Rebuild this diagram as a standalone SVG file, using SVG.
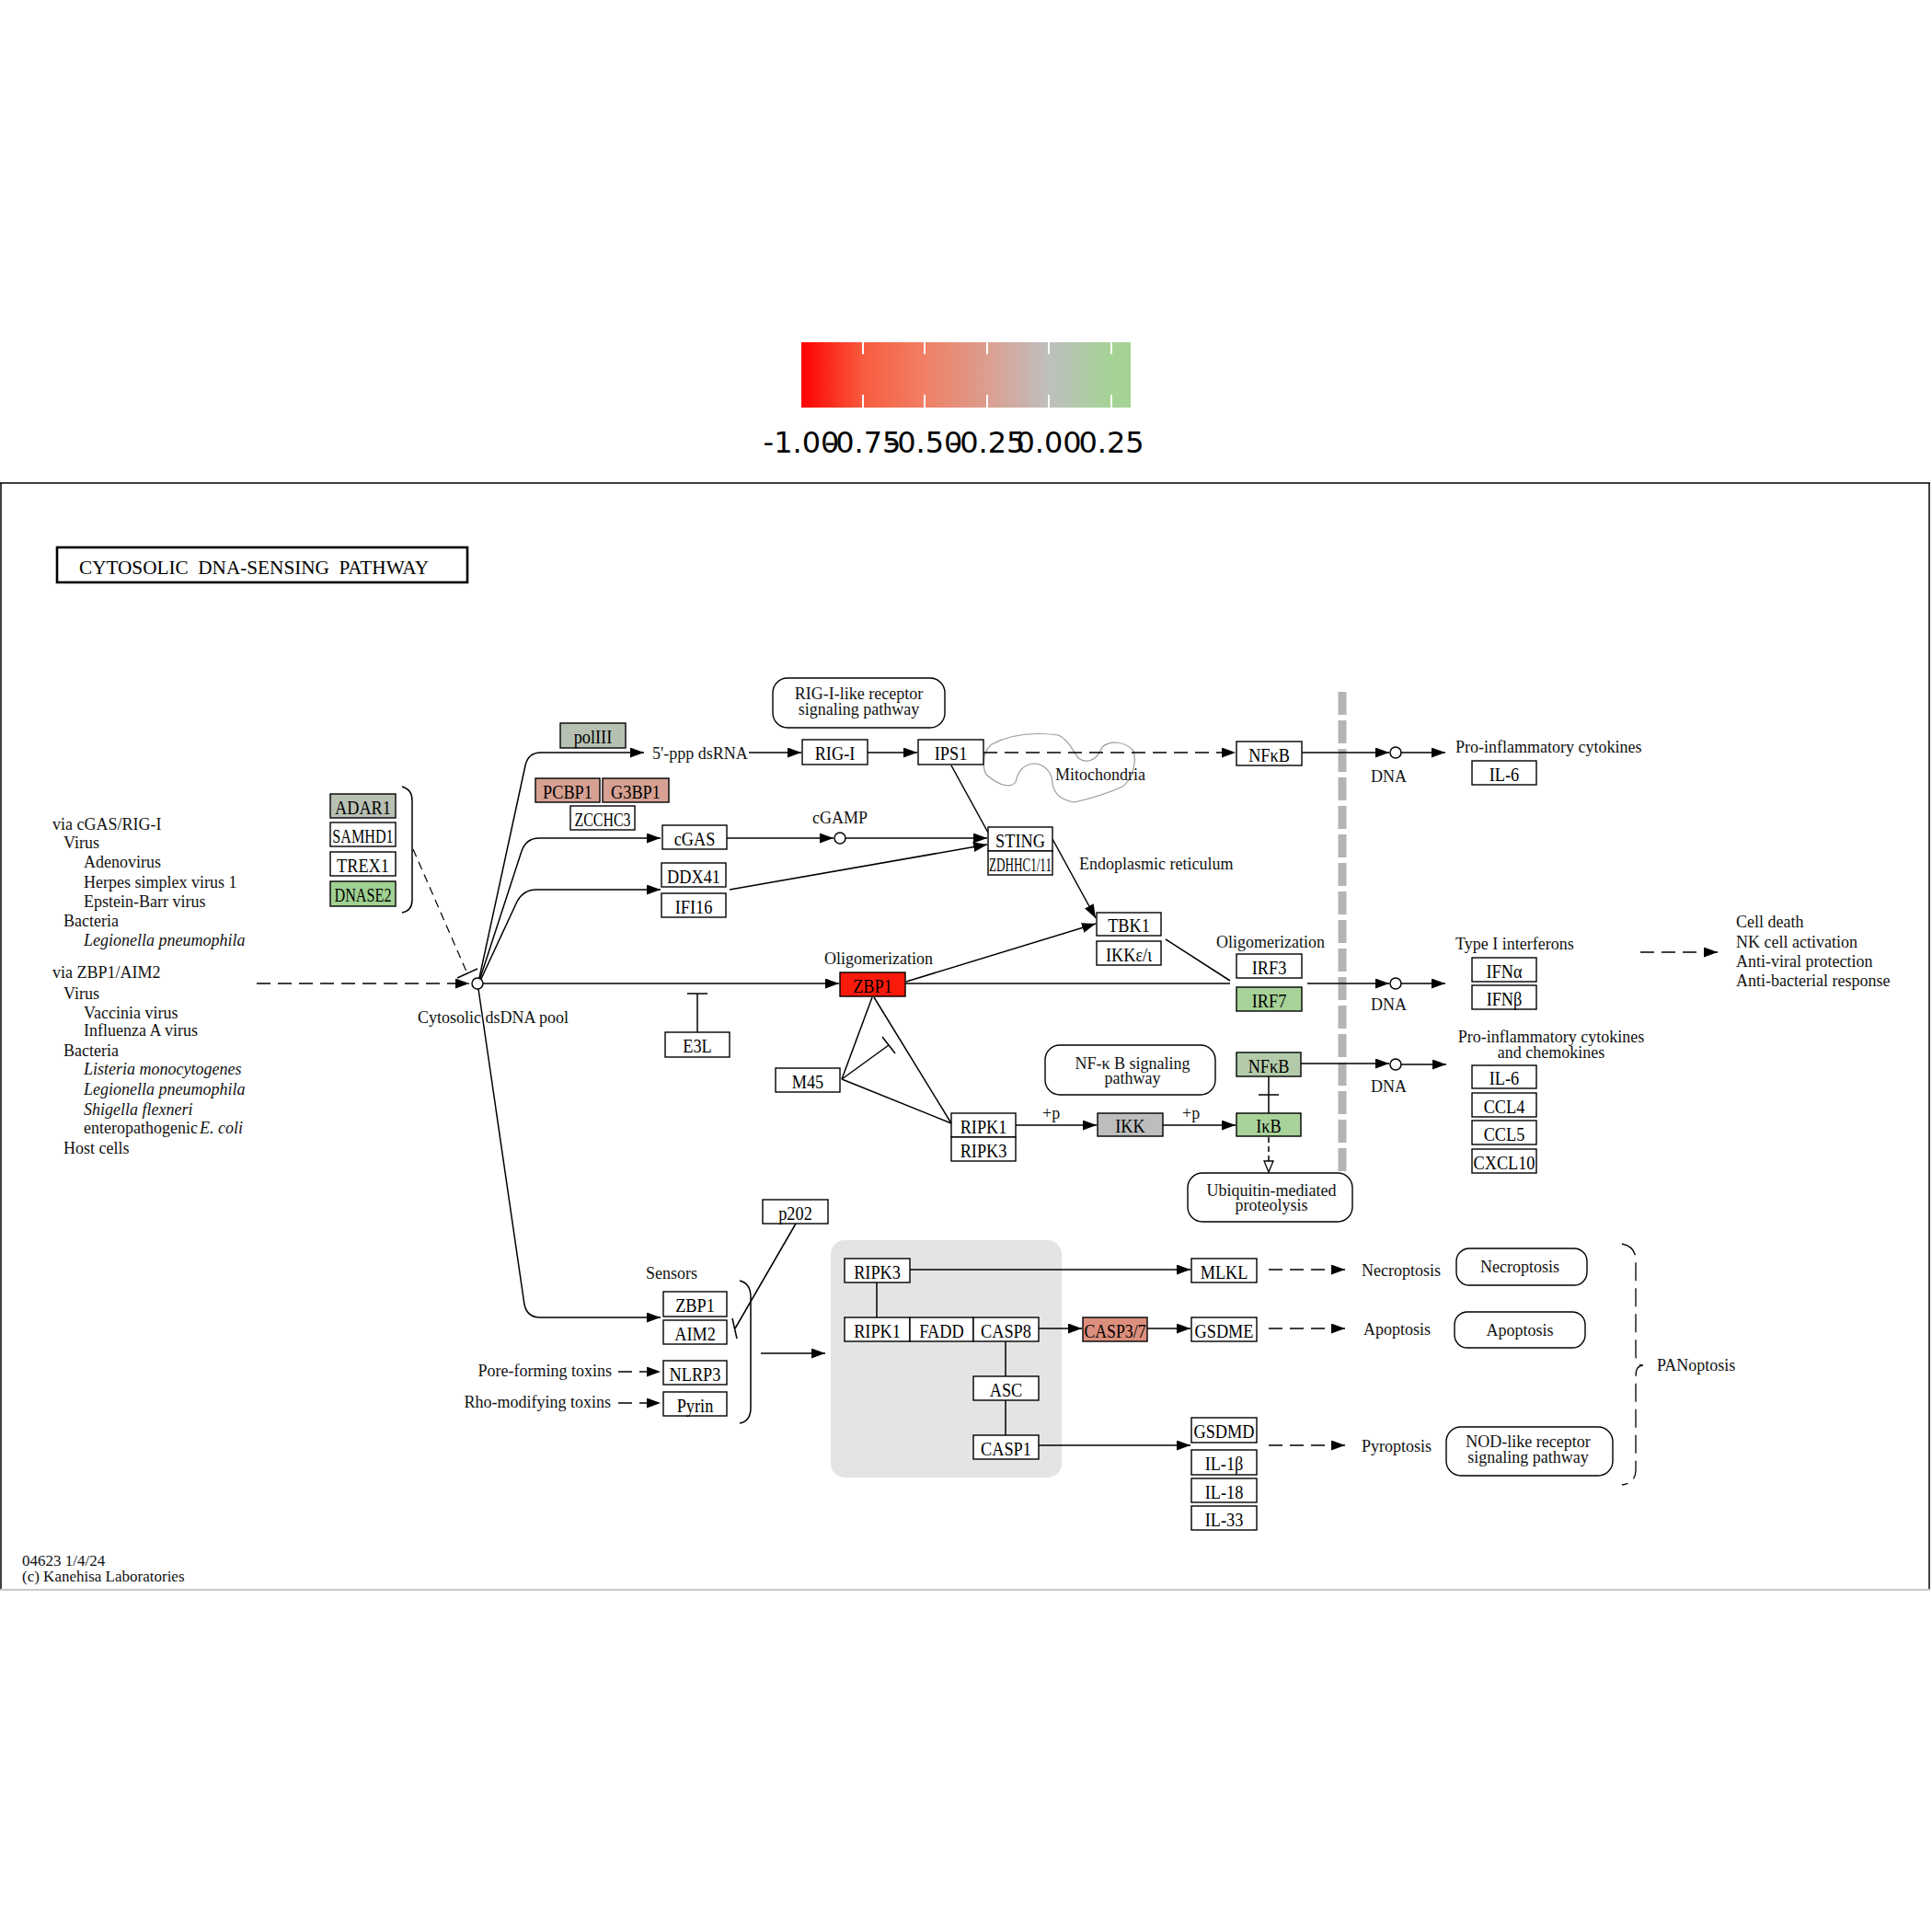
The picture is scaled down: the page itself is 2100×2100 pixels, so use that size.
<svg xmlns="http://www.w3.org/2000/svg" width="2100" height="2100" viewBox="0 0 2100 2100">
<defs>
<style>
.bx{fill:#fff;stroke:#000;stroke-width:1.4}
.rb{fill:#fff;stroke:#000;stroke-width:1.4}
.b{font-family:'Liberation Serif','Times New Roman',serif;font-size:21.5px;text-anchor:middle;fill:#000}
.l{font-family:'Liberation Serif','Times New Roman',serif;font-size:18px;fill:#111}
.lc{font-family:'Liberation Serif','Times New Roman',serif;font-size:18px;fill:#111;text-anchor:middle}
.it{font-style:italic}
.ln{stroke:#000;stroke-width:1.5;fill:none}
.dl{stroke:#000;stroke-width:1.6;fill:none;stroke-dasharray:15 8}
.ds{stroke:#000;stroke-width:1.2;fill:none;stroke-dasharray:9 6}
.lg{font-family:'DejaVu Sans',sans-serif;font-size:32px;text-anchor:middle;fill:#000}
</style>
<marker id="a" viewBox="0 0 15 11" refX="15" refY="5.5" markerWidth="15" markerHeight="11" markerUnits="userSpaceOnUse" orient="auto"><path d="M0,0 L15,5.5 L0,11 z" fill="#000"/></marker>
<marker id="h" viewBox="0 0 14 12" refX="13" refY="6" markerWidth="14" markerHeight="12" markerUnits="userSpaceOnUse" orient="auto"><path d="M1,1 L13,6 L1,11 z" fill="#fff" stroke="#000" stroke-width="1.3"/></marker>
<linearGradient id="grad" x1="0" y1="0" x2="1" y2="0">
<stop offset="0" stop-color="#ff0000"/>
<stop offset="0.1875" stop-color="#f85c3e"/>
<stop offset="0.375" stop-color="#f08066"/>
<stop offset="0.5625" stop-color="#dc9e8e"/>
<stop offset="0.75" stop-color="#bfbfbf"/>
<stop offset="0.94" stop-color="#a5d395"/>
<stop offset="1" stop-color="#a5d395"/>
</linearGradient>
</defs>
<rect width="2100" height="2100" fill="#fff"/>

<g id="legend">
<rect x="871" y="372" width="358" height="71" fill="url(#grad)"/>
<g stroke="#fff" stroke-width="2">
<line x1="938" y1="372" x2="938" y2="385"/><line x1="938" y1="429" x2="938" y2="443"/>
<line x1="1005" y1="372" x2="1005" y2="385"/><line x1="1005" y1="429" x2="1005" y2="443"/>
<line x1="1073" y1="372" x2="1073" y2="385"/><line x1="1073" y1="429" x2="1073" y2="443"/>
<line x1="1140" y1="372" x2="1140" y2="385"/><line x1="1140" y1="429" x2="1140" y2="443"/>
<line x1="1208" y1="372" x2="1208" y2="385"/><line x1="1208" y1="429" x2="1208" y2="443"/>
</g>
<text class="lg" x="871" y="492">-1.00</text>
<text class="lg" x="938" y="492">-0.75</text>
<text class="lg" x="1005" y="492">-0.50</text>
<text class="lg" x="1073" y="492">-0.25</text>
<text class="lg" x="1140" y="492">0.00</text>
<text class="lg" x="1208" y="492">0.25</text>
</g>

<g id="frame">
<line x1="0" y1="525" x2="2098" y2="525" stroke="#000" stroke-width="1.5"/>
<line x1="1" y1="525" x2="1" y2="1728" stroke="#000" stroke-width="1.5"/>
<line x1="2097" y1="525" x2="2097" y2="1728" stroke="#000" stroke-width="1.5"/>
<line x1="0" y1="1728" x2="2098" y2="1728" stroke="#c8c8c8" stroke-width="2"/>
</g>

<g id="title">
<rect x="62" y="595" width="446" height="38" fill="#fff" stroke="#000" stroke-width="2.6"/>
<text x="86" y="624" font-family="'Liberation Serif','Times New Roman',serif" font-size="22" textLength="380" lengthAdjust="spacingAndGlyphs" xml:space="preserve">CYTOSOLIC  DNA-SENSING  PATHWAY</text>
</g>

<g id="pathogens" class="l">
<text x="57" y="902">via cGAS/RIG-I</text>
<text x="69" y="922">Virus</text>
<text x="91" y="943">Adenovirus</text>
<text x="91" y="965">Herpes simplex virus 1</text>
<text x="91" y="986">Epstein-Barr virus</text>
<text x="69" y="1007">Bacteria</text>
<text x="91" y="1028" class="it">Legionella pneumophila</text>
<text x="57" y="1063">via ZBP1/AIM2</text>
<text x="69" y="1086">Virus</text>
<text x="91" y="1107">Vaccinia virus</text>
<text x="91" y="1126">Influenza A virus</text>
<text x="69" y="1148">Bacteria</text>
<text x="91" y="1168" class="it">Listeria monocytogenes</text>
<text x="91" y="1190" class="it">Legionella pneumophila</text>
<text x="91" y="1212" class="it">Shigella flexneri</text>
<text x="91" y="1232">enteropathogenic<tspan class="it" dx="2">E. coli</tspan></text>
<text x="69" y="1254">Host cells</text>
</g>

<g id="mitochondria">
<path d="M1072,842 C1066,830 1070,815 1078,809 C1095,800 1120,795 1150,799 C1160,803 1166,815 1172,824 C1180,830 1192,828 1198,812 C1206,805 1222,805 1232,816 C1236,830 1230,848 1220,855 C1205,862 1185,868 1168,872 C1155,870 1146,864 1144,852 C1144,842 1138,832 1126,830 C1112,830 1106,840 1104,850 C1100,856 1088,856 1072,842 Z" fill="none" stroke="#9a9a9a" stroke-width="1.2"/>
<text class="l" x="1147" y="848" fill="#222">Mitochondria</text>
</g>

<g id="membrane">
<line x1="1459" y1="752" x2="1459" y2="1273" stroke="#b4b4b4" stroke-width="9" stroke-dasharray="25 6"/>
</g>

<g id="connectors">
<!-- left inputs -->
<line class="dl" x1="279" y1="1069" x2="510" y2="1069" marker-end="url(#a)"/>
<path class="ln" d="M437,855 Q448,858 448,870 L448,978 Q448,990 437,992"/>
<line class="ds" x1="449" y1="923" x2="507" y2="1056"/>
<line class="ln" x1="497" y1="1063" x2="519" y2="1053"/>
<circle cx="519" cy="1069" r="6" fill="#fff" stroke="#000" stroke-width="1.5"/>
<!-- fans from dsDNA pool -->
<path class="ln" d="M521,1063 L571,832 Q574,818 588,818 L700,818" marker-end="url(#a)"/>
<path class="ln" d="M522,1063 L567,925 Q572,911 586,911 L718,911" marker-end="url(#a)"/>
<path class="ln" d="M523,1064 L562,980 Q569,967 583,967 L718,967" marker-end="url(#a)"/>
<path class="ln" d="M520,1075 L570,1418 Q573,1432 587,1432 L718,1432" marker-end="url(#a)"/>
<line class="ln" x1="525" y1="1069" x2="912" y2="1069" marker-end="url(#a)"/>
<!-- RIG-I branch -->
<line class="ln" x1="814" y1="818" x2="871" y2="818" marker-end="url(#a)"/>
<line class="ln" x1="943" y1="818" x2="997" y2="818" marker-end="url(#a)"/>
<line class="dl" x1="1069" y1="818" x2="1343" y2="818" marker-end="url(#a)"/>
<line class="ln" x1="1415" y1="818" x2="1510" y2="818" marker-end="url(#a)"/>
<circle cx="1517" cy="818" r="6" fill="#fff" stroke="#000" stroke-width="1.5"/>
<line class="ln" x1="1523" y1="818" x2="1571" y2="818" marker-end="url(#a)"/>
<!-- cGAS branch -->
<line class="ln" x1="790" y1="911" x2="906" y2="911" marker-end="url(#a)"/>
<circle cx="913" cy="911" r="6" fill="#fff" stroke="#000" stroke-width="1.5"/>
<line class="ln" x1="919" y1="911" x2="1073" y2="911" marker-end="url(#a)"/>
<line class="ln" x1="793" y1="967" x2="1073" y2="918" marker-end="url(#a)"/>
<line class="ln" x1="1034" y1="832" x2="1074" y2="905"/>
<line class="ln" x1="1144" y1="912" x2="1191" y2="998" marker-end="url(#a)"/>
<!-- ZBP1 branch -->
<line class="ln" x1="985" y1="1067" x2="1191" y2="1004" marker-end="url(#a)"/>
<line class="ln" x1="984" y1="1069" x2="1337" y2="1069"/>
<line class="ln" x1="1267" y1="1021" x2="1337" y2="1066"/>
<line class="ln" x1="1421" y1="1069" x2="1510" y2="1069" marker-end="url(#a)"/>
<circle cx="1517" cy="1069" r="6" fill="#fff" stroke="#000" stroke-width="1.5"/>
<line class="ln" x1="1523" y1="1069" x2="1571" y2="1069" marker-end="url(#a)"/>
<line class="dl" x1="1783" y1="1035" x2="1867" y2="1035" marker-end="url(#a)"/>
<line class="ln" x1="758" y1="1122" x2="758" y2="1080"/>
<line class="ln" x1="747" y1="1080" x2="769" y2="1080"/>
<line class="ln" x1="948" y1="1084" x2="915" y2="1173"/>
<line class="ln" x1="950" y1="1084" x2="1034" y2="1221"/>
<line class="ln" x1="915" y1="1173" x2="1034" y2="1221"/>
<line class="ln" x1="915" y1="1173" x2="966" y2="1136"/>
<line class="ln" x1="959" y1="1127" x2="973" y2="1145"/>
<!-- NF-kB branch -->
<line class="ln" x1="1104" y1="1223" x2="1192" y2="1223" marker-end="url(#a)"/>
<line class="ln" x1="1264" y1="1223" x2="1343" y2="1223" marker-end="url(#a)"/>
<line class="ln" x1="1379" y1="1170" x2="1379" y2="1210"/>
<line class="ln" x1="1368" y1="1190" x2="1390" y2="1190"/>
<line class="ln" x1="1379" y1="1236" x2="1379" y2="1274" stroke-dasharray="6 4" marker-end="url(#h)"/>
<line class="ln" x1="1414" y1="1156" x2="1510" y2="1156" marker-end="url(#a)"/>
<circle cx="1517" cy="1157" r="6" fill="#fff" stroke="#000" stroke-width="1.5"/>
<line class="ln" x1="1523" y1="1157" x2="1572" y2="1157" marker-end="url(#a)"/>
<!-- inflammasome / PANoptosis -->
<line class="dl" x1="672" y1="1491" x2="718" y2="1491" marker-end="url(#a)"/>
<line class="dl" x1="672" y1="1525" x2="718" y2="1525" marker-end="url(#a)"/>
<path class="ln" d="M804,1392 Q816,1395 816,1410 L816,1530 Q816,1545 804,1547"/>
<line class="ln" x1="865" y1="1330" x2="799" y2="1444"/>
<line class="ln" x1="796" y1="1433" x2="801" y2="1455"/>
<line class="ln" x1="827" y1="1471" x2="897" y2="1471" marker-end="url(#a)"/>
</g>

<g id="complex-box">
<rect x="903" y="1348" width="251" height="258" rx="15" fill="#e4e4e4"/>
</g>

<g id="complex-connectors">
<line class="ln" x1="953" y1="1394" x2="953" y2="1432"/>
<line class="ln" x1="1093" y1="1458" x2="1093" y2="1496"/>
<line class="ln" x1="1093" y1="1522" x2="1093" y2="1560"/>
<line class="ln" x1="989" y1="1380" x2="1294" y2="1380" marker-end="url(#a)"/>
<line class="ln" x1="1129" y1="1444" x2="1176" y2="1444" marker-end="url(#a)"/>
<line class="ln" x1="1247" y1="1444" x2="1294" y2="1444" marker-end="url(#a)"/>
<line class="ln" x1="1129" y1="1571" x2="1294" y2="1571" marker-end="url(#a)"/>
<line class="dl" x1="1379" y1="1380" x2="1462" y2="1380" marker-end="url(#a)"/>
<line class="dl" x1="1379" y1="1444" x2="1462" y2="1444" marker-end="url(#a)"/>
<line class="dl" x1="1379" y1="1571" x2="1462" y2="1571" marker-end="url(#a)"/>
<path d="M1763,1352 Q1778,1355 1778,1370 L1778,1472 Q1778,1484 1786,1484 Q1778,1484 1778,1496 L1778,1598 Q1778,1612 1763,1614" fill="none" stroke="#000" stroke-width="1.3" stroke-dasharray="20 8"/>
</g>

<!-- nodes -->
<g id="ADAR1"><rect class="bx" x="359" y="863" width="71" height="26" fill="#b8c0b4" style="fill:#b8c0b4"/><text class="b" transform="translate(394.5,885) scale(0.85,1)">ADAR1</text></g>
<g id="SAMHD1"><rect class="bx" x="359" y="894" width="71" height="26"/><text class="b" transform="translate(394.5,916) scale(0.85,1)" textLength="78" lengthAdjust="spacingAndGlyphs">SAMHD1</text></g>
<g id="TREX1"><rect class="bx" x="359" y="926" width="71" height="26"/><text class="b" transform="translate(394.5,948) scale(0.85,1)">TREX1</text></g>
<g id="DNASE2"><rect class="bx" x="359" y="958" width="71" height="27" style="fill:#a0d092"/><text class="b" transform="translate(394.5,980) scale(0.85,1)" textLength="73" lengthAdjust="spacingAndGlyphs">DNASE2</text></g>

<g id="polIII"><rect class="bx" x="609" y="786" width="71" height="27" style="fill:#b7c1b2"/><text class="b" transform="translate(644.5,808) scale(0.85,1)">polIII</text></g>
<g id="PCBP1"><rect class="bx" x="582" y="846" width="70" height="26" style="fill:#d6a193"/><text class="b" transform="translate(617,868) scale(0.85,1)">PCBP1</text></g>
<g id="G3BP1"><rect class="bx" x="655" y="846" width="72" height="26" style="fill:#d6a193"/><text class="b" transform="translate(691,868) scale(0.85,1)">G3BP1</text></g>
<g id="ZCCHC3"><rect class="bx" x="620" y="876" width="70" height="26"/><text class="b" transform="translate(655,898) scale(0.85,1)" textLength="72" lengthAdjust="spacingAndGlyphs">ZCCHC3</text></g>
<g id="cGAS"><rect class="bx" x="720" y="897" width="70" height="26"/><text class="b" transform="translate(755,919) scale(0.85,1)">cGAS</text></g>
<g id="DDX41"><rect class="bx" x="719" y="938" width="70" height="26"/><text class="b" transform="translate(754,960) scale(0.85,1)">DDX41</text></g>
<g id="IFI16"><rect class="bx" x="719" y="971" width="70" height="26"/><text class="b" transform="translate(754,993) scale(0.85,1)">IFI16</text></g>
<g id="RIG-I"><rect class="bx" x="872" y="804" width="71" height="27"/><text class="b" transform="translate(907.5,826) scale(0.85,1)">RIG-I</text></g>
<g id="IPS1"><rect class="bx" x="998" y="804" width="71" height="27"/><text class="b" transform="translate(1033.5,826) scale(0.85,1)">IPS1</text></g>
<g id="NFkB-top"><rect class="bx" x="1344" y="806" width="71" height="26"/><text class="b" transform="translate(1379.5,828) scale(0.85,1)">NFκB</text></g>
<g id="IL6-top"><rect class="bx" x="1600" y="827" width="70" height="26"/><text class="b" transform="translate(1635,849) scale(0.85,1)">IL-6</text></g>
<g id="STING"><rect class="bx" x="1074" y="899" width="70" height="26"/><text class="b" transform="translate(1109,921) scale(0.85,1)">STING</text></g>
<g id="ZDHHC1-11"><rect class="bx" x="1074" y="925" width="70" height="26"/><text class="b" transform="translate(1109,947) scale(0.85,1)" textLength="80" lengthAdjust="spacingAndGlyphs">ZDHHC1/11</text></g>
<g id="TBK1"><rect class="bx" x="1192" y="992" width="70" height="25"/><text class="b" transform="translate(1227,1013) scale(0.85,1)">TBK1</text></g>
<g id="IKKe"><rect class="bx" x="1192" y="1023" width="70" height="26"/><text class="b" transform="translate(1227,1045) scale(0.85,1)">IKKε/ι</text></g>
<g id="IRF3"><rect class="bx" x="1344" y="1037" width="71" height="26"/><text class="b" transform="translate(1379.5,1059) scale(0.85,1)">IRF3</text></g>
<g id="IRF7"><rect class="bx" x="1344" y="1073" width="71" height="26" style="fill:#a7d398"/><text class="b" transform="translate(1379.5,1095) scale(0.85,1)">IRF7</text></g>
<g id="IFNa"><rect class="bx" x="1600" y="1041" width="70" height="26"/><text class="b" transform="translate(1635,1063) scale(0.85,1)">IFNα</text></g>
<g id="IFNb"><rect class="bx" x="1600" y="1071" width="70" height="26"/><text class="b" transform="translate(1635,1093) scale(0.85,1)">IFNβ</text></g>
<g id="ZBP1"><rect class="bx" x="913" y="1057" width="71" height="26" style="fill:#fa1a0c"/><text class="b" transform="translate(948.5,1079) scale(0.85,1)">ZBP1</text></g>
<g id="E3L"><rect class="bx" x="723" y="1122" width="70" height="27"/><text class="b" transform="translate(758,1144) scale(0.85,1)">E3L</text></g>
<g id="M45"><rect class="bx" x="843" y="1161" width="70" height="26"/><text class="b" transform="translate(878,1183) scale(0.85,1)">M45</text></g>
<g id="RIPK1-a"><rect class="bx" x="1034" y="1210" width="70" height="26"/><text class="b" transform="translate(1069,1232) scale(0.85,1)">RIPK1</text></g>
<g id="RIPK3-a"><rect class="bx" x="1034" y="1236" width="70" height="26"/><text class="b" transform="translate(1069,1258) scale(0.85,1)">RIPK3</text></g>
<g id="IKK"><rect class="bx" x="1193" y="1210" width="71" height="25" style="fill:#bdbdbd"/><text class="b" transform="translate(1228.5,1231) scale(0.85,1)">IKK</text></g>
<g id="NFkB-low"><rect class="bx" x="1344" y="1144" width="70" height="26" style="fill:#b4cbab"/><text class="b" transform="translate(1379,1166) scale(0.85,1)">NFκB</text></g>
<g id="IkB"><rect class="bx" x="1344" y="1210" width="70" height="25" style="fill:#a9d39a"/><text class="b" transform="translate(1379,1231) scale(0.85,1)">IκB</text></g>
<g id="IL6-b"><rect class="bx" x="1600" y="1158" width="70" height="25"/><text class="b" transform="translate(1635,1179) scale(0.85,1)">IL-6</text></g>
<g id="CCL4"><rect class="bx" x="1600" y="1188" width="70" height="26"/><text class="b" transform="translate(1635,1210) scale(0.85,1)">CCL4</text></g>
<g id="CCL5"><rect class="bx" x="1600" y="1218" width="70" height="26"/><text class="b" transform="translate(1635,1240) scale(0.85,1)">CCL5</text></g>
<g id="CXCL10"><rect class="bx" x="1600" y="1249" width="70" height="26"/><text class="b" transform="translate(1635,1271) scale(0.85,1)">CXCL10</text></g>

<g id="p202"><rect class="bx" x="829" y="1304" width="71" height="26"/><text class="b" transform="translate(864.5,1326) scale(0.85,1)">p202</text></g>
<g id="ZBP1-s"><rect class="bx" x="721" y="1404" width="69" height="27"/><text class="b" transform="translate(755.5,1426) scale(0.85,1)">ZBP1</text></g>
<g id="AIM2"><rect class="bx" x="721" y="1435" width="69" height="26"/><text class="b" transform="translate(755.5,1457) scale(0.85,1)">AIM2</text></g>
<g id="NLRP3"><rect class="bx" x="721" y="1479" width="69" height="26"/><text class="b" transform="translate(755.5,1501) scale(0.85,1)">NLRP3</text></g>
<g id="Pyrin"><rect class="bx" x="721" y="1513" width="69" height="26"/><text class="b" transform="translate(755.5,1535) scale(0.85,1)">Pyrin</text></g>

<g id="RIPK3-c"><rect class="bx" x="918" y="1368" width="71" height="26"/><text class="b" transform="translate(953.5,1390) scale(0.85,1)">RIPK3</text></g>
<g id="RIPK1-c"><rect class="bx" x="918" y="1432" width="71" height="26"/><text class="b" transform="translate(953.5,1454) scale(0.85,1)">RIPK1</text></g>
<g id="FADD"><rect class="bx" x="989" y="1432" width="69" height="26"/><text class="b" transform="translate(1023.5,1454) scale(0.85,1)">FADD</text></g>
<g id="CASP8"><rect class="bx" x="1058" y="1432" width="71" height="26"/><text class="b" transform="translate(1093.5,1454) scale(0.85,1)">CASP8</text></g>
<g id="ASC"><rect class="bx" x="1058" y="1496" width="71" height="26"/><text class="b" transform="translate(1093.5,1518) scale(0.85,1)">ASC</text></g>
<g id="CASP1"><rect class="bx" x="1058" y="1560" width="71" height="26"/><text class="b" transform="translate(1093.5,1582) scale(0.85,1)">CASP1</text></g>
<g id="MLKL"><rect class="bx" x="1295" y="1368" width="71" height="26"/><text class="b" transform="translate(1330.5,1390) scale(0.85,1)">MLKL</text></g>
<g id="CASP3-7"><rect class="bx" x="1177" y="1432" width="70" height="26" style="fill:#dc8f7d"/><text class="b" transform="translate(1212,1454) scale(0.85,1)" textLength="79" lengthAdjust="spacingAndGlyphs">CASP3/7</text></g>
<g id="GSDME"><rect class="bx" x="1295" y="1432" width="71" height="26"/><text class="b" transform="translate(1330.5,1454) scale(0.85,1)">GSDME</text></g>
<g id="GSDMD"><rect class="bx" x="1295" y="1541" width="71" height="27"/><text class="b" transform="translate(1330.5,1563) scale(0.85,1)">GSDMD</text></g>
<g id="IL1b"><rect class="bx" x="1295" y="1576" width="71" height="27"/><text class="b" transform="translate(1330.5,1598) scale(0.85,1)">IL-1β</text></g>
<g id="IL18"><rect class="bx" x="1295" y="1607" width="71" height="26"/><text class="b" transform="translate(1330.5,1629) scale(0.85,1)">IL-18</text></g>
<g id="IL33"><rect class="bx" x="1295" y="1637" width="71" height="26"/><text class="b" transform="translate(1330.5,1659) scale(0.85,1)">IL-33</text></g>

<!-- pathway maps -->
<g id="RLR-map"><rect class="rb" x="840" y="737" width="187" height="54" rx="16"/><text class="lc" x="933.5" y="760">RIG-I-like receptor</text><text class="lc" x="933.5" y="777">signaling pathway</text></g>
<g id="NFkB-map"><rect class="rb" x="1136" y="1136" width="185" height="54" rx="16"/><text class="lc" x="1231" y="1162">NF-κ B signaling</text><text class="lc" x="1231" y="1178">pathway</text></g>
<g id="Ubiquitin-map"><rect class="rb" x="1291" y="1275" width="179" height="53" rx="16"/><text class="lc" x="1382" y="1300">Ubiquitin-mediated</text><text class="lc" x="1382" y="1316">proteolysis</text></g>
<g id="Necroptosis-map"><rect class="rb" x="1583" y="1357" width="142" height="40" rx="14"/><text class="lc" x="1652" y="1383">Necroptosis</text></g>
<g id="Apoptosis-map"><rect class="rb" x="1581" y="1426" width="142" height="39" rx="14"/><text class="lc" x="1652" y="1452">Apoptosis</text></g>
<g id="NLR-map"><rect class="rb" x="1572" y="1551" width="181" height="53" rx="16"/><text class="lc" x="1661" y="1573">NOD-like receptor</text><text class="lc" x="1661" y="1590">signaling pathway</text></g>

<g id="labels" class="l">
<text x="709" y="825">5'-ppp dsRNA</text>
<text x="883" y="895">cGAMP</text>
<text x="1173" y="945">Endoplasmic reticulum</text>
<text x="896" y="1048">Oligomerization</text>
<text x="1322" y="1030">Oligomerization</text>
<text x="454" y="1112">Cytosolic dsDNA pool</text>
<text x="1490" y="850">DNA</text>
<text x="1490" y="1098">DNA</text>
<text x="1490" y="1187">DNA</text>
<text x="1582" y="818">Pro-inflammatory cytokines</text>
<text x="1582" y="1032">Type I interferons</text>
<text x="1686" y="1133" text-anchor="middle">Pro-inflammatory cytokines</text>
<text x="1686" y="1150" text-anchor="middle">and chemokines</text>
<text x="1887" y="1008">Cell death</text>
<text x="1887" y="1030">NK cell activation</text>
<text x="1887" y="1051">Anti-viral protection</text>
<text x="1887" y="1072">Anti-bacterial response</text>
<text x="1133" y="1216">+p</text>
<text x="1285" y="1216">+p</text>
<text x="702" y="1390">Sensors</text>
<text x="665" y="1496" text-anchor="end">Pore-forming toxins</text>
<text x="664" y="1530" text-anchor="end">Rho-modifying toxins</text>
<text x="1480" y="1387">Necroptosis</text>
<text x="1482" y="1451">Apoptosis</text>
<text x="1480" y="1578">Pyroptosis</text>
<text x="1801" y="1490">PANoptosis</text>
</g>

<g id="footer" font-family="'Liberation Serif','Times New Roman',serif" font-size="17" fill="#111">
<text x="24" y="1702">04623 1/4/24</text>
<text x="24" y="1719">(c) Kanehisa Laboratories</text>
</g>
</svg>
